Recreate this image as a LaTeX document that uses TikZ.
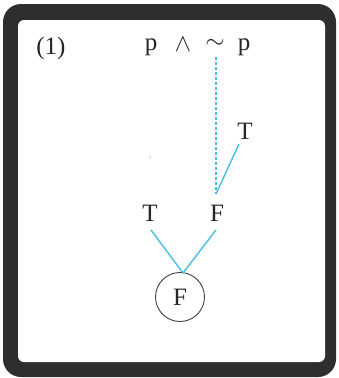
\documentclass[tikz,border=0pt]{standalone}
\usepackage{amssymb}
\usepackage{fontspec}
\setmainfont{Liberation Serif}
\definecolor{lineblue}{RGB}{72,190,228}
\begin{document}
\begin{tikzpicture}[x=1pt,y=-1pt,
  lbl/.style={font=\fontsize{25}{30}\selectfont, text=black!85, inner sep=0pt},
  link/.style={draw=lineblue, line width=1.4pt},
  dlink/.style={link, dash pattern=on 3pt off 2pt}]
\useasboundingbox (0,0) rectangle (338,378);
\fill[black!82, rounded corners=18pt] (3,4) rectangle (336,377);
\fill[white, rounded corners=6pt] (18,20) rectangle (325,362);
\node[lbl] (num) at (51,48) {(1)};
\node[lbl] (p1) at (151,47) {p};
\node[lbl] (and) at (183,45) {$\wedge$};
\node[lbl] (neg) at (215,44) {$\sim$};
\node[lbl] (p2) at (244,47) {p};
\node[lbl] (t1) at (245,131) {T};
\node[lbl] (t2) at (150,213) {T};
\node[lbl] (f1) at (217,213) {F};
\node[lbl, draw=black!75, line width=0.9pt, circle, minimum size=49pt] (f0) at (180,297) {F};
\coordinate (dtop) at (216,57);
\coordinate (dbot) at (216,194);
\coordinate (meet) at (183,273);
\draw[dlink] (dtop) -- (dbot);
\draw[link] (239,144) -- (dbot);
\draw[link] (151,230) -- (meet);
\draw[link] (216,230) -- (meet);
\fill[black!25] (150,157) circle (0.8pt);
\end{tikzpicture}
\end{document}
